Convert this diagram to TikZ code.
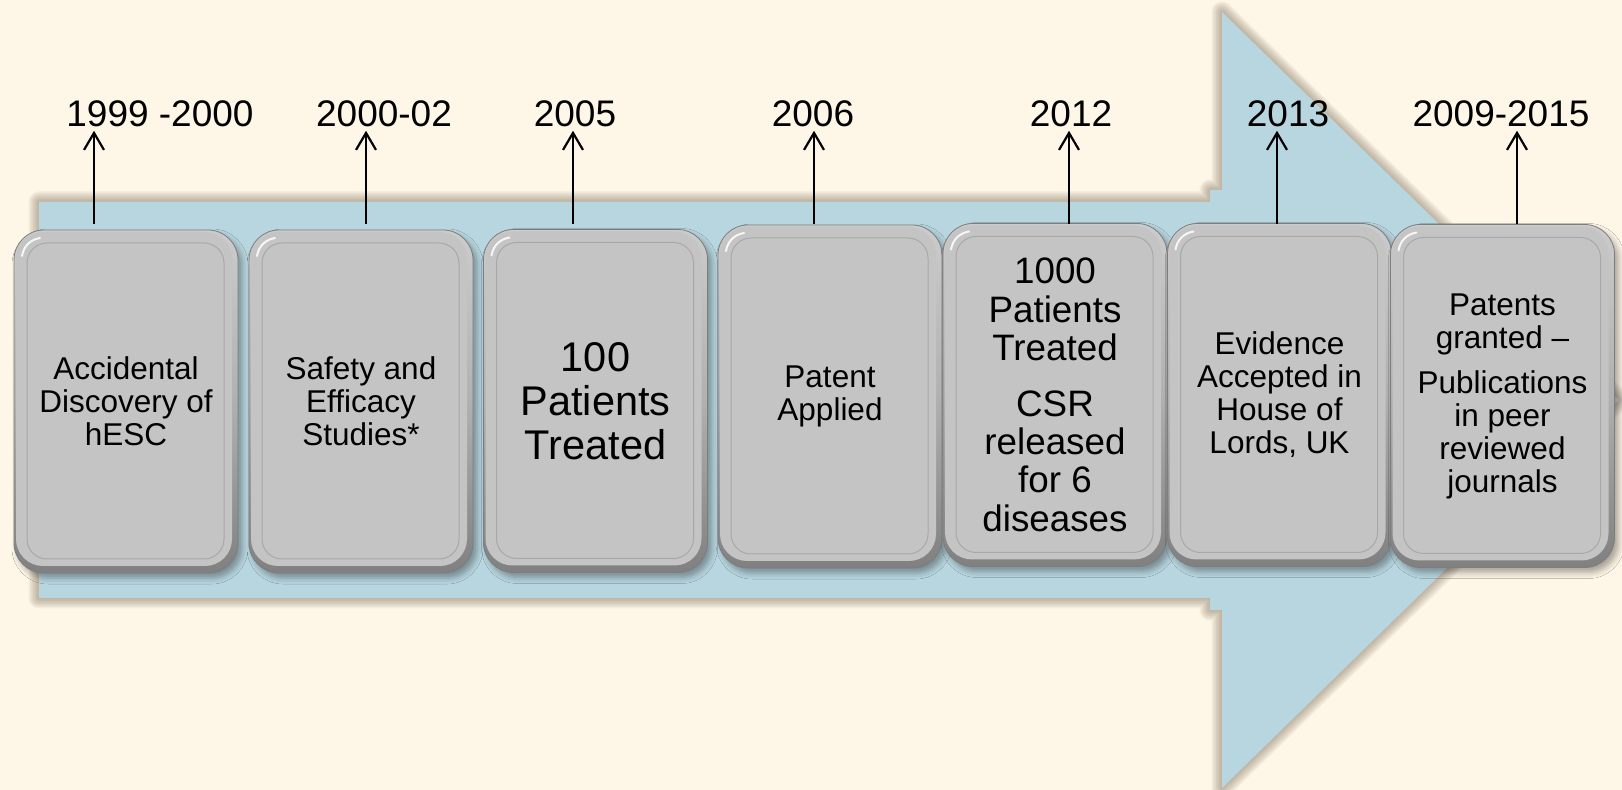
\documentclass[tikz,border=0pt]{standalone}
\usepackage{fontspec}
\setmainfont{Liberation Sans}
\usetikzlibrary{arrows.meta,shadows.blur,calc}

\definecolor{paper}{RGB}{254,246,231}
\definecolor{band}{RGB}{184,214,224}
\definecolor{bandshade}{RGB}{110,92,72}
\definecolor{cardface}{RGB}{196,196,196}
\definecolor{cardtop}{RGB}{204,204,204}
\definecolor{cardbottom}{RGB}{128,128,128}
\definecolor{cardedge}{RGB}{125,125,125}
\definecolor{cardline}{RGB}{168,168,168}

\newcommand\cardfont{\fontsize{15.75pt}{16.5pt}\selectfont}
\newcommand\cardfontmid{\fontsize{18.4pt}{19.2pt}\selectfont}
\newcommand\cardfontbig{\fontsize{20.75pt}{22pt}\selectfont}
\newcommand\yearfont{\fontsize{18.5pt}{20pt}\selectfont}

\begin{document}
\begin{tikzpicture}[x=0.5pt,y=-0.5pt,
  card/.style={rounded corners=15pt, minimum width=112pt, minimum height=171.5pt,
    inner sep=0pt, align=center, font=\cardfont,
    top color=cardtop, bottom color=cardbottom, middle color=cardface!90!black,
    draw=cardedge, line width=0.4pt,
    blur shadow={shadow xshift=2pt, shadow yshift=-2.5pt,
      shadow blur radius=3pt, shadow opacity=35},
    path picture={
      % raised face, leaving a darker bevel at the lower right
      \fill[cardface, rounded corners=13.5pt]
        ([shift={(1pt,-1pt)}]path picture bounding box.north west) rectangle
        ([shift={(-3pt,3.5pt)}]path picture bounding box.south east);
      % faint inner frame
      \draw[cardline, line width=0.5pt, rounded corners=10pt]
        ([shift={(6.5pt,-6.5pt)}]path picture bounding box.north west) rectangle
        ([shift={(-7pt,7pt)}]path picture bounding box.south east);
      % gloss at the upper left corner
      \draw[white, opacity=0.85, line width=1pt, line cap=round]
        ([shift={(4pt,-13pt)}]path picture bounding box.north west)
        to[out=80,in=190]
        ([shift={(13pt,-4pt)}]path picture bounding box.north west);
    }},
  year/.style={anchor=base, inner sep=0pt, font=\yearfont},
  yarrow/.style={line width=1.1pt, shorten >=1.5pt,
    -{Straight Barb[length=8.5pt,width=10pt,line width=1.1pt]}}
]

% paper
\fill[paper] (0,0) rectangle (1622,790);
\useasboundingbox (0,0) rectangle (1622,790);

% the big arrow: soft shadow rings, then the fill
\def\bandpath{(39,202) -- (1210,202) -- (1210,190) -- (1222,190) -- (1222,12)
  -- (1619,400) -- (1222,788) -- (1222,610) -- (1210,610) -- (1210,598)
  -- (39,598) -- cycle}
\foreach \w in {1,...,7}
  \draw[bandshade, opacity=0.07, line width=\w*1.5pt, line join=round] \bandpath;
\fill[band] \bandpath;

% milestone cards
\node[card] (b1) at (126,401.5) {Accidental\\Discovery of\\hESC};
\node[card] (b2) at (361,401.5) {Safety and\\Efficacy\\Studies*};
\node[card, font=\cardfontbig] (b3) at (595.5,401) {100\\Patients\\Treated};
\node[card] (b4) at (830,396.5) {Patent\\Applied};
\node[card, font=\cardfontmid] (b5) at (1055,395)
  {1000\\Patients\\Treated\\[8.5pt]CSR\\released\\for 6\\diseases};
\node[card] (b6) at (1279.5,395) {Evidence\\Accepted in\\House of\\Lords, UK};
\node[card] (b7) at (1502.5,396)
  {Patents\\granted --\\[6pt]Publications\\in peer\\reviewed\\journals};

% year labels
\node[year] (y1) at (160,127) {1999 -2000};
\node[year] (y2) at (384,127) {2000-02};
\node[year] (y3) at (575,127) {2005};
\node[year] (y4) at (813,127) {2006};
\node[year] (y5) at (1071,127) {2012};
\node[year] (y6) at (1288,127) {2013};
\node[year] (y7) at (1501,127) {2009-2015};

% feet of the year pointers, just above the cards
\coordinate (f1) at (94,224);
\coordinate (f2) at (366,224);
\coordinate (f3) at (573,224);
\coordinate (f4) at (814,224);
\coordinate (f5) at (1069,224);
\coordinate (f6) at (1277,224);
\coordinate (f7) at (1517,224);

\foreach \i in {1,...,7}
  \draw[yarrow] (f\i) -- (f\i |- y\i.south);

\end{tikzpicture}
\end{document}
